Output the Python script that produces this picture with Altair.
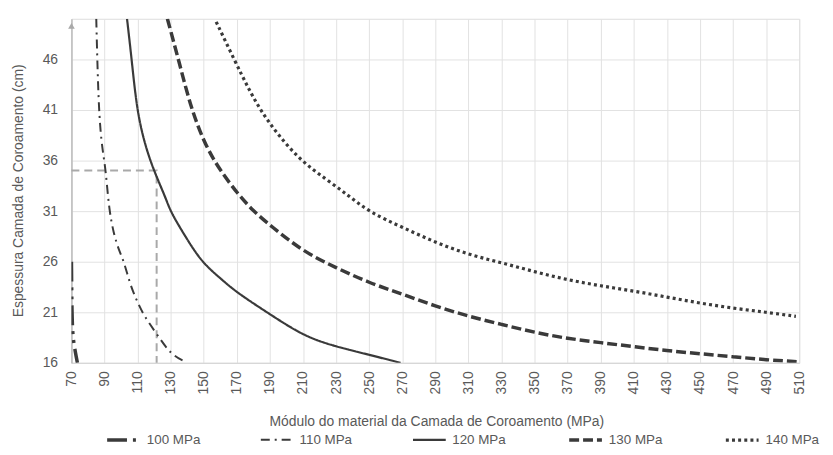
import altair as alt
import pandas as pd

series_names = ["100 MPa", "110 MPa", "120 MPa", "130 MPa", "140 MPa"]

x100 = [70, 70.2, 70.6, 71.2, 72.4, 73.6]
y100 = [26, 22, 19.3, 18.2, 17, 16]

x110 = [85, 85.6, 86.6, 88, 89.8, 91, 92.8, 95.5, 98.5, 101.8, 105, 109, 114, 121, 130, 139]
y110 = [50, 46, 41, 38, 36, 34.5, 31.1, 28.8, 27.2, 26, 24, 22.3, 20.6, 19, 16.8, 16.1]

x120 = [103.6, 106.4, 109.6, 114.5, 119.8, 127, 130, 138.8, 148.5, 159.7, 169.5, 190, 210.9, 230, 250, 269]
y120 = [50, 46, 40.9, 37.5, 35, 32.3, 30.9, 28.5, 26, 24.4, 23, 20.8, 18.6, 17.6, 16.8, 16]

x130 = [128, 135, 142.5, 151.5, 160, 171, 180, 190, 210, 230, 250, 270, 290, 310, 330, 350, 370, 390, 410, 430, 450, 470, 490, 510]
y130 = [50, 45.8, 41, 37.3, 35, 32.6, 31, 29.6, 27, 25.4, 23.9, 22.8, 21.6, 20.6, 19.8, 19.0, 18.4, 18.0, 17.6, 17.2, 16.9, 16.6, 16.3, 16.1]

x140 = [157.5, 168.9, 176.7, 184.5, 195, 208.5, 223.5, 237, 250, 270, 290, 310, 330, 350, 370, 390, 410, 430, 450, 470, 490, 508]
y140 = [49.7, 45.8, 43.2, 40.9, 38.5, 36, 34.2, 32.6, 30.9, 29.4, 27.9, 26.7, 25.9, 25.0, 24.2, 23.6, 23.1, 22.5, 21.9, 21.4, 21.0, 20.6]

ref_x = [70, 121.5, 121.5]
ref_y = [35, 35, 16]
ref_order = [0, 1, 2]

x_ticks = list(range(70, 511, 20))
y_ticks = [16, 21, 26, 31, 36, 41, 46]

x_title = "Módulo do material da Camada de Coroamento (MPa)"
y_title = "Espessura Camada de Coroamento (cm)"

rows = []
for name, xs, ys in zip(series_names, [x100, x110, x120, x130, x140], [y100, y110, y120, y130, y140]):
    for a, b in zip(xs, ys):
        rows.append({"serie": name, "modulo": a, "espessura": b})
df = pd.DataFrame(rows)
ref_df = pd.DataFrame({"modulo": ref_x, "espessura": ref_y, "o": ref_order})

FONT = "Liberation Sans"
TXT = "#595959"
LINE = "#3a3a3a"

dashes = [[20, 6, 3, 6, 3, 6], [9, 5, 2, 5], [1, 0], [10, 4], [3, 3.2]]
widths = [3.5, 2, 2.2, 3.5, 3.2]

xscale = alt.Scale(domain=[70, 510], nice=False, zero=False)
yscale = alt.Scale(domain=[16, 50], nice=False, zero=False)

x_axis = alt.Axis(values=x_ticks, tickCount=40, title=x_title, labelAngle=270, grid=True, labelOverlap=False,
                  gridColor="#e2e2e2", domainColor="#d6d6d6", ticks=False, tickSize=0,
                  labelPadding=8, labelFontSize=14, labelColor=TXT, labelFont=FONT,
                  titleFont=FONT, titleFontSize=14, titleColor=TXT, titleFontWeight="normal",
                  titleX=368, titleY=59, titleBaseline="middle", titleAlign="center")
y_axis = alt.Axis(values=y_ticks, tickCount=20, title=y_title, grid=True, gridColor="#e2e2e2", labelOverlap=False,
                  domainColor="#a9a9a9", ticks=False, tickSize=0, labelPadding=14,
                  labelFontSize=14, labelColor=TXT, labelFont=FONT,
                  titleFont=FONT, titleFontSize=14, titleColor=TXT, titleFontWeight="normal",
                  titleX=-53, titleY=173, titleBaseline="middle", titleAlign="center", titleAngle=270)

leg = alt.Legend(title=None, orient="none", legendX=34, legendY=406, direction="horizontal",
                 symbolType="stroke", symbolSize=1089, labelFontSize=13.5, labelColor=TXT,
                 labelFont=FONT, labelOffset=5, columnPadding=56, padding=0)

ref = alt.Chart(ref_df).mark_line(color="#a9a9a9", strokeDash=[8, 5], strokeWidth=2).encode(
    x=alt.X("modulo:Q", scale=xscale, axis=x_axis),
    y=alt.Y("espessura:Q", scale=yscale, axis=y_axis),
    order="o:Q",
)

lines = alt.Chart(df).mark_line(interpolate="basis", clip=True).encode(
    x=alt.X("modulo:Q", scale=xscale, axis=x_axis),
    y=alt.Y("espessura:Q", scale=yscale, axis=y_axis),
    color=alt.Color("serie:N", scale=alt.Scale(domain=series_names, range=[LINE] * 5), legend=leg),
    strokeDash=alt.StrokeDash("serie:N", scale=alt.Scale(domain=series_names, range=dashes), legend=leg),
    strokeWidth=alt.StrokeWidth("serie:N", scale=alt.Scale(type="ordinal", domain=series_names, range=widths), legend=leg),
)

arrow = alt.Chart(pd.DataFrame({"a": [0]})).mark_point(
    shape="triangle-up", filled=True, color="#a9a9a9", size=45, opacity=1
).encode(x=alt.datum(70), y=alt.datum(49.3))

chart = alt.layer(ref, lines, arrow).properties(
    width=734, height=347,
    autosize=alt.AutoSizeParams(type="none"),
    padding={"left": 64, "top": 9, "right": 26, "bottom": 86},
).configure_view(stroke=None).configure(font=FONT)

chart.save("out.html", embed_options={"renderer": "svg", "actions": False})
